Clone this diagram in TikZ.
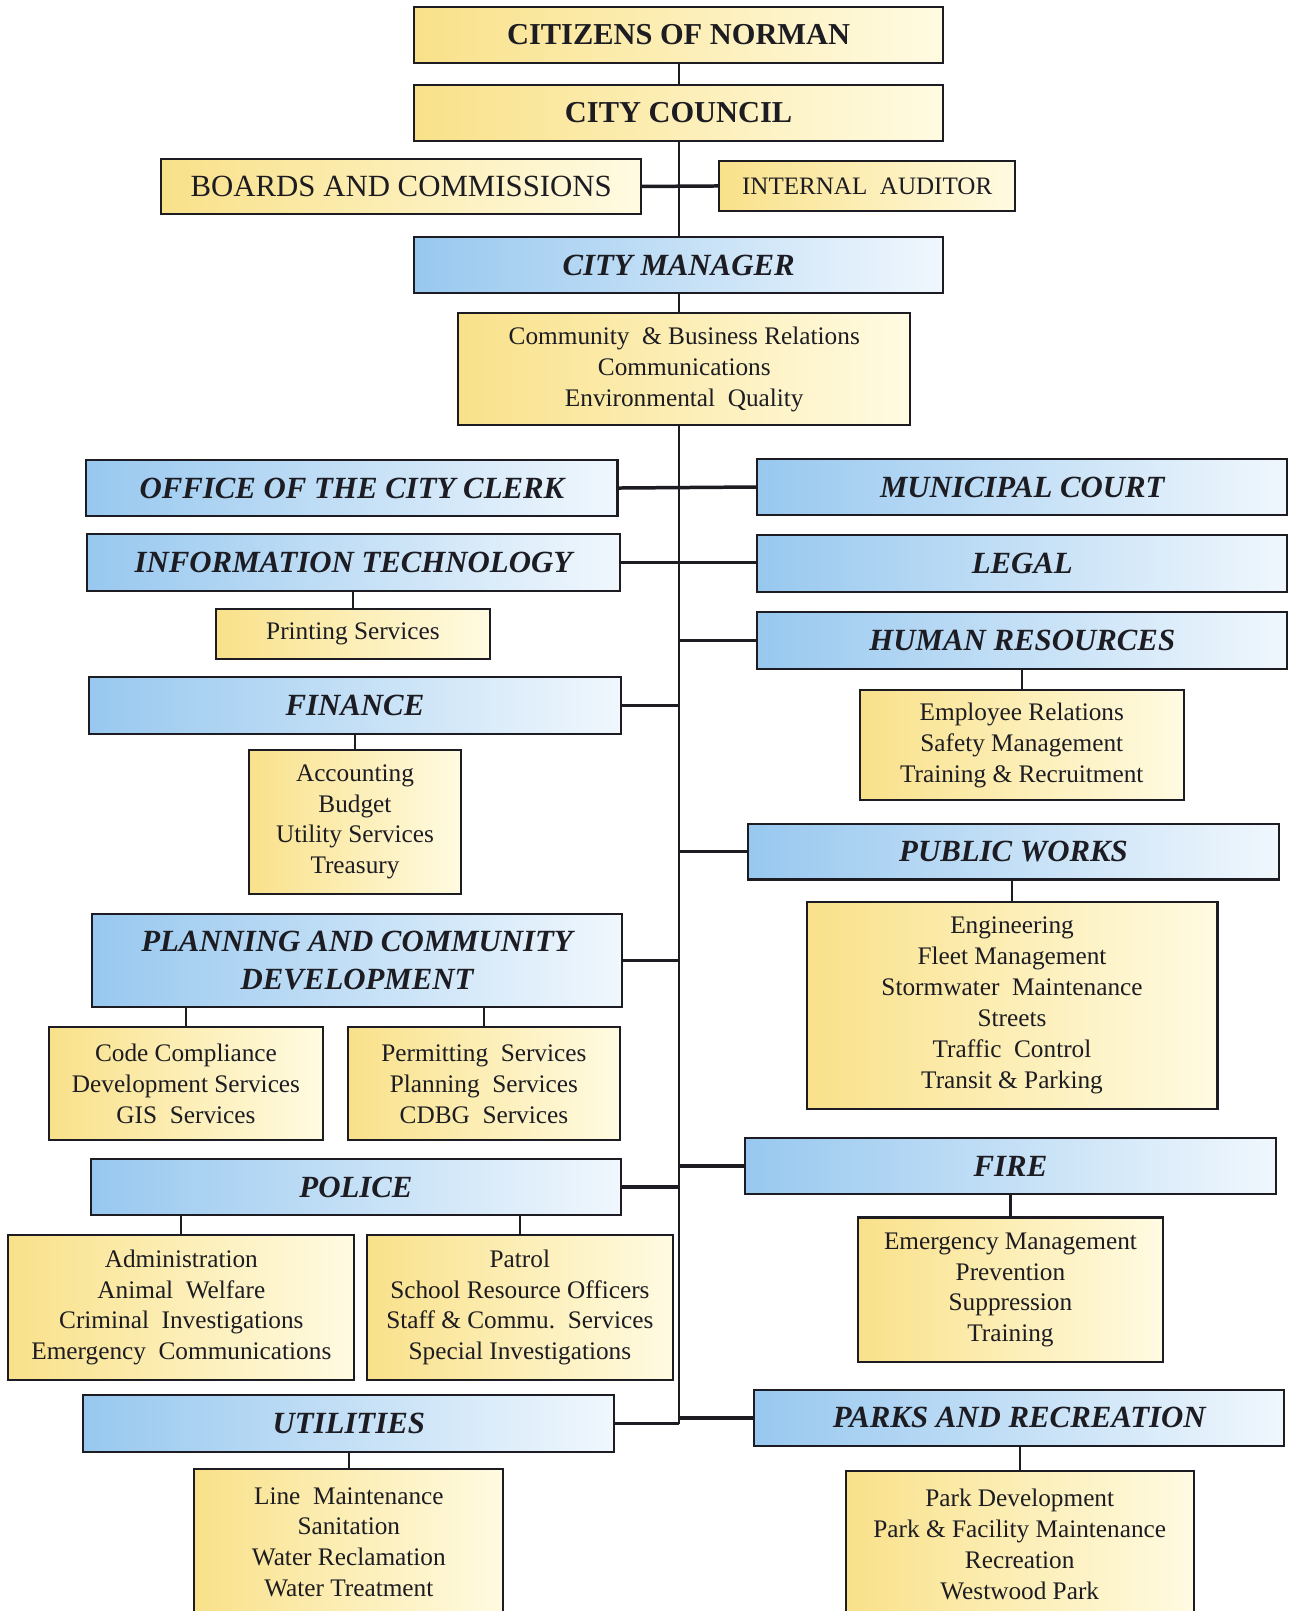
\documentclass[tikz,border=0pt]{standalone}
\usepackage{fontspec}
\setmainfont{Liberation Serif}
\definecolor{ylA}{RGB}{249,225,138}
\definecolor{ylB}{RGB}{255,251,226}
\definecolor{blA}{RGB}{152,200,239}
\definecolor{blB}{RGB}{240,247,253}
\definecolor{ink}{RGB}{28,28,34}
% \orgbox{style}{name}{x1}{y1}{x2}{y2}{text}
\newcommand\orgbox[7]{\node[#1, minimum width={(#5-#3)*0.5pt}, minimum height={(#6-#4)*0.5pt}] (#2) at ({(#3+#5)/2},{(#4+#6)/2}) {#7};}
\begin{document}
\begin{tikzpicture}[x=0.5pt,y=-0.5pt,
  box/.style={draw=ink, line width=1pt, inner sep=0pt, outer sep=0pt, text=ink},
  ybox/.style={box, left color=ylA, right color=ylB},
  bbox/.style={box, left color=blA, right color=blB, align=center,
    font=\fontsize{15}{18.5}\selectfont\bfseries\itshape},
  body/.style={align=center, font=\fontsize{12.3}{15}\selectfont},
  topfont/.style={font=\fontsize{14.8}{18}\selectfont\bfseries},
  spine/.style={draw=ink, line width=1pt},
  arm/.style={draw=ink, line width=1.7pt},
  drop/.style={draw=ink, line width=1pt}]
\fill[white, use as bounding box] (0,0) rectangle (1255,1568);
\clip (0,0) rectangle (1255,1568);

% top chain
\orgbox{ybox, topfont}{citizens}{403}{7}{918}{61}{CITIZENS OF NORMAN}
\orgbox{ybox, topfont}{council}{403}{83}{918}{137}{CITY COUNCIL}
\orgbox{ybox, font=\fontsize{15}{18}\selectfont}{boards}{157}{155}{624}{208}{BOARDS AND COMMISSIONS}
\orgbox{ybox, font=\fontsize{12.2}{15}\selectfont}{auditor}{700}{157}{988}{205}{INTERNAL\ \ AUDITOR}
\orgbox{bbox}{cm}{403}{231}{918}{285}{CITY MANAGER}
\orgbox{ybox, body}{cmoff}{446}{305}{886}{414}{Community \ \& Business Relations\\Communications\\Environmental\ \ Quality}

% left column
\orgbox{bbox}{clerk}{84}{448}{601}{502}{OFFICE OF THE CITY CLERK}
\orgbox{bbox}{it}{85}{520}{603}{575}{INFORMATION TECHNOLOGY}
\orgbox{ybox, body}{print}{210}{593}{477}{641}{Printing Services}
\orgbox{bbox}{fin}{87}{659}{604}{714}{FINANCE}
\orgbox{ybox, body}{finsub}{242}{730}{449}{870}{Accounting\\Budget\\Utility Services\\Treasury}
\orgbox{bbox}{plan}{90}{890}{605}{980}{PLANNING AND COMMUNITY\\DEVELOPMENT}
\orgbox{ybox, body}{code}{48}{1000}{314}{1110}{Code Compliance\\Development Services\\GIS\ \ Services}
\orgbox{ybox, body}{permit}{339}{1000}{603}{1110}{Permitting\ \ Services\\Planning\ \ Services\\CDBG\ \ Services}
\orgbox{bbox}{police}{89}{1128}{604}{1183}{POLICE}
\orgbox{ybox, body}{admin}{8}{1202}{345}{1343}{Administration\\Animal\ \ Welfare\\Criminal\ \ Investigations\\Emergency\ \ Communications}
\orgbox{ybox, body}{patrol}{357}{1202}{655}{1343}{Patrol\\School Resource Officers\\Staff \& Commu.\ \ Services\\Special Investigations}
\orgbox{bbox}{util}{81}{1358}{598}{1413}{UTILITIES}
\orgbox{ybox, body}{utilsub}{189}{1430}{490}{1572}{Line\ \ Maintenance\\Sanitation\\Water Reclamation\\Water Treatment}

% right column
\orgbox{bbox}{court}{737}{447}{1253}{501}{MUNICIPAL COURT}
\orgbox{bbox}{legal}{737}{521}{1253}{576}{LEGAL}
\orgbox{bbox}{hr}{737}{596}{1253}{651}{HUMAN RESOURCES}
\orgbox{ybox, body}{hrsub}{837}{672}{1152}{779}{Employee Relations\\Safety Management\\Training \& Recruitment}
\orgbox{bbox}{pw}{728}{802}{1245}{856}{PUBLIC WORKS}
\orgbox{ybox, body}{pwsub}{785}{878}{1185}{1079}{Engineering\\Fleet Management\\Stormwater\ \ Maintenance\\Streets\\Traffic\ \ Control\\Transit \& Parking}
\orgbox{bbox}{fire}{725}{1108}{1242}{1162}{FIRE}
\orgbox{ybox, body}{firesub}{835}{1185}{1132}{1326}{Emergency Management\\Prevention\\Suppression\\Training}
\orgbox{bbox}{parks}{734}{1353}{1250}{1407}{PARKS AND RECREATION}
\orgbox{ybox, body}{parksub}{823}{1432}{1162}{1574}{Park Development\\Park \& Facility Maintenance\\Recreation\\Westwood Park}

% spine
\coordinate (spineB) at (cm.south |- util.east);
\draw[spine] (citizens) -- (council);
\draw[spine] (council) -- (cm);
\draw[spine] (cm.south) -- (cm.south |- cmoff.north);
\draw[spine] (cm.south |- cmoff.south) -- (spineB);
\draw[arm] (boards.east) -- (auditor.west);

% arms
\draw[arm] (clerk.east) -- (court.west);
\draw[arm] (it.east) -- (it.east -| legal.west);
\draw[arm] (hr.west) -- (hr.west -| spineB);
\draw[arm] (fin.east) -- (fin.east -| spineB);
\draw[arm] (pw.west) -- (pw.west -| spineB);
\draw[arm] (plan.east) -- (plan.east -| spineB);
\draw[arm] (fire.west) -- (fire.west -| spineB);
\draw[arm] (police.east) -- (police.east -| spineB);
\draw[arm] (util.east) -- (spineB);
\draw[arm] (parks.west) -- (parks.west -| spineB);

% drops
\draw[drop] (it.south -| print.north) -- (print.north);
\draw[drop] (fin.south -| finsub.north) -- (finsub.north);
\draw[drop] (hr.south -| hrsub.north) -- (hrsub.north);
\draw[drop] (pw.south -| pwsub.north) -- (pwsub.north);
\draw[drop] (code.north |- plan.south) -- (code.north);
\draw[drop] (permit.north |- plan.south) -- (permit.north);
\draw[drop] (admin.north |- police.south) -- (admin.north);
\draw[drop] (patrol.north |- police.south) -- (patrol.north);
\draw[drop] (fire.south -| firesub.north) -- (firesub.north);
\draw[drop] (util.south -| utilsub.north) -- (utilsub.north);
\draw[drop] (parks.south -| parksub.north) -- (parksub.north);
\end{tikzpicture}
\end{document}
